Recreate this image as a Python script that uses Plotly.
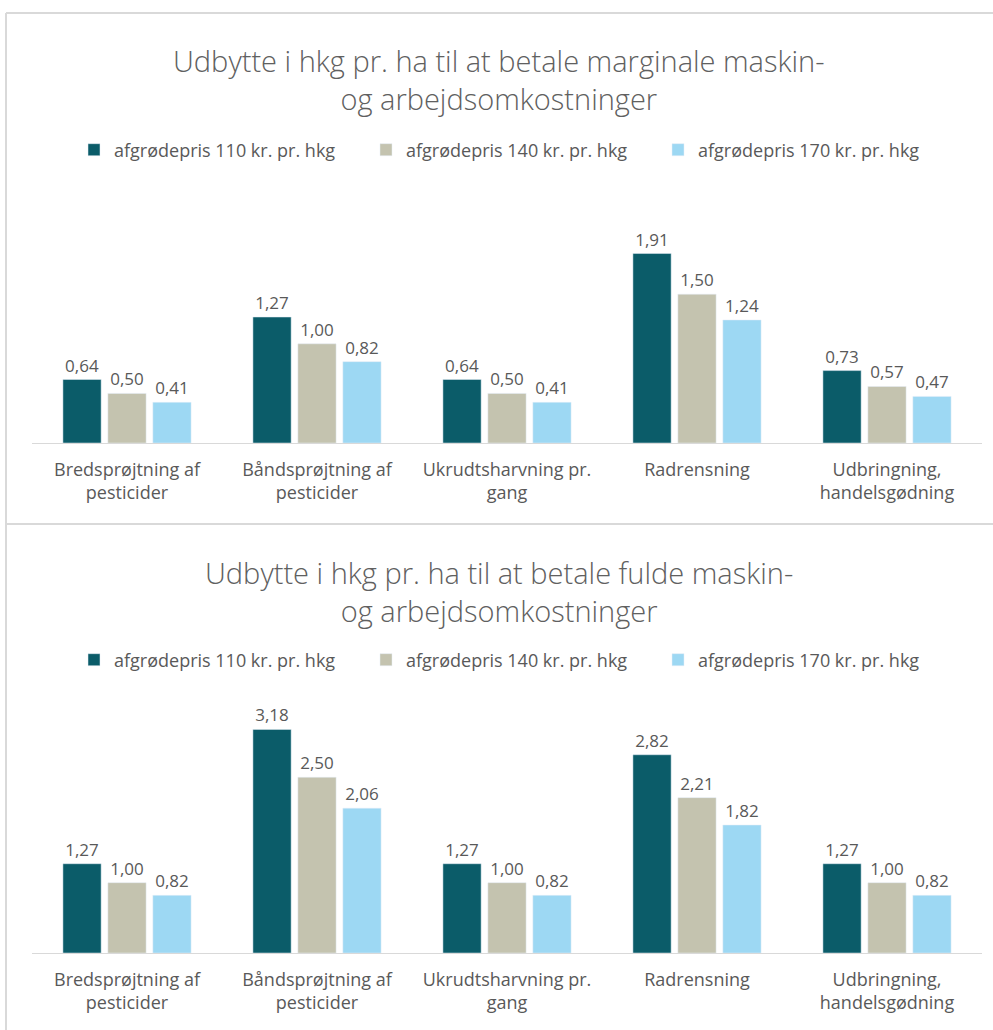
import plotly.graph_objects as go

categories = ["Bredsprøjtning af<br>pesticider", "Båndsprøjtning af<br>pesticider",
              "Ukrudtsharvning pr.<br>gang", "Radrensning", "Udbringning,<br>handelsgødning"]
series_names = ["afgrødepris 110 kr. pr. hkg", "afgrødepris 140 kr. pr. hkg", "afgrødepris 170 kr. pr. hkg"]
marginal_110 = [0.64, 1.27, 0.64, 1.91, 0.73]
marginal_140 = [0.50, 1.00, 0.50, 1.50, 0.57]
marginal_170 = [0.41, 0.82, 0.41, 1.24, 0.47]
full_110 = [1.27, 3.18, 1.27, 2.82, 1.27]
full_140 = [1.00, 2.50, 1.00, 2.21, 1.00]
full_170 = [0.82, 2.06, 0.82, 1.82, 0.82]
colors = ["#0b5c69", "#c4c3af", "#9dd8f3"]

title_top = "Udbytte i hkg pr. ha til at betale marginale maskin-<br>og arbejdsomkostninger"
title_bottom = "Udbytte i hkg pr. ha til at betale fulde maskin-<br>og arbejdsomkostninger"

W, H = 993, 1030
FONT = "Open Sans, Lato, sans-serif"
GRAY = "#595959"

def py(p):
    return 1 - p / H

def fmt(v):
    return f"{v:.2f}".replace(".", ",")

fig = go.Figure()
for vals, name, col in zip([marginal_110, marginal_140, marginal_170], series_names, colors):
    fig.add_trace(go.Bar(x=categories, y=vals, name=name, marker_color=col,
                         text=[fmt(v) for v in vals], textposition="outside",
                         textfont=dict(size=17, color=GRAY, family=FONT), cliponaxis=False,
                         xaxis="x", yaxis="y", legend="legend"))
for vals, name, col in zip([full_110, full_140, full_170], series_names, colors):
    fig.add_trace(go.Bar(x=categories, y=vals, name=name, marker_color=col,
                         text=[fmt(v) for v in vals], textposition="outside",
                         textfont=dict(size=17, color=GRAY, family=FONT), cliponaxis=False,
                         xaxis="x2", yaxis="y2", legend="legend2"))

xdom = [32 / W, 982 / W]
axis_common = dict(showgrid=False, zeroline=False, tickfont=dict(size=18, color=GRAY, family=FONT),
                   showline=True, linecolor="#d9d9d9", linewidth=1,
                   ticks="outside", ticklen=10, tickcolor="rgba(0,0,0,0)")
leg_common = dict(orientation="h", x=74 / W, xanchor="left", yanchor="middle",
                  font=dict(size=18, color=GRAY, family=FONT), itemwidth=30, traceorder="normal",
                  entrywidth=247, entrywidthmode="pixels")

annotations = [
    dict(text=t, x=0.503, y=py(yc), xref="paper", yref="paper", showarrow=False,
         xanchor="center", yanchor="middle",
         font=dict(size=29, color="#606060", family=FONT, weight=300))
    for t, yc in [(title_top, 79), (title_bottom, 591)]
]

fig.update_layout(
    width=W, height=H, margin=dict(l=0, r=0, t=0, b=0),
    paper_bgcolor="white", plot_bgcolor="white",
    barmode="group", bargap=0.29, bargroupgap=0.15,
    font=dict(family=FONT, color=GRAY),
    showlegend=True,
    xaxis=dict(domain=xdom, anchor="y", **axis_common),
    yaxis=dict(domain=[py(443), py(233)], range=[0, 210 / 99.2], visible=False, anchor="x"),
    xaxis2=dict(domain=xdom, anchor="y2", **axis_common),
    yaxis2=dict(domain=[py(953), py(713)], range=[0, 240 / 70.3], visible=False, anchor="x2"),
    legend=dict(y=py(150), **leg_common),
    legend2=dict(y=py(660), **leg_common),
    annotations=annotations,
    shapes=[
        dict(type="line", xref="paper", yref="paper", x0=6 / W, x1=1, y0=py(13), y1=py(13),
             line=dict(color="#d9d9d9", width=2)),
        dict(type="line", xref="paper", yref="paper", x0=6 / W, x1=6 / W, y0=py(13), y1=0,
             line=dict(color="#d9d9d9", width=2)),
        dict(type="line", xref="paper", yref="paper", x0=6 / W, x1=1, y0=py(524), y1=py(524),
             line=dict(color="#d9d9d9", width=2)),
    ],
)
fig.write_html("out.html", config={"displayModeBar": False},
               post_script="document.body.style.margin='0';document.body.style.overflow='hidden';")
